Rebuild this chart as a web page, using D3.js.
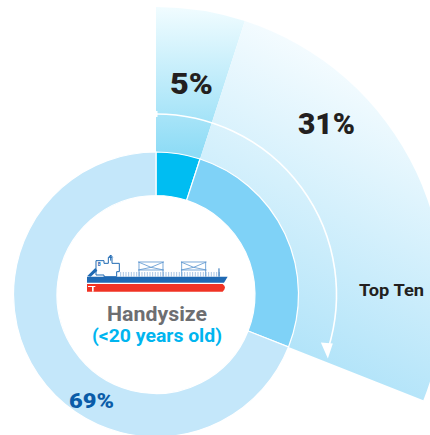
<!DOCTYPE html>
<html>
<head>
<meta charset="utf-8">
<script src="https://cdn.jsdelivr.net/npm/d3@7"></script>
<style>
  html, body { margin: 0; padding: 0; background: #fff; }
  svg { display: block; }
  text { font-family: Roboto, sans-serif; }
</style>
</head>
<body>
<script>
// shares of the handysize fleet, clockwise from 12 o'clock
const slices = ["Top Ten, young", "Top Ten, other", "Rest"];
const shares = [5, 26, 69];
const ringColors = ["#00bdf2", "#7fd2f7", "#c4e7fa"];
const shareLabels = ["5%", "31%", "69%"];

const w = 430;
const h = 435;
const cx = 156;
const cy = 294.5;
const rInner = 99;
const rOuter = 142.5;
const rWedge = 287.5;
const rArrow = 180.5;

const svg = d3.select("body")
    .append("svg")
    .attr("width", w)
    .attr("height", h);

const defs = svg.append("defs");

// gradient coordinates are relative to the ring centre, same as the wedges
const grad5 = defs.append("linearGradient")
    .attr("id", "grad5")
    .attr("gradientUnits", "userSpaceOnUse")
    .attr("x1", 0).attr("y1", 8 - cy).attr("x2", 0).attr("y2", 152 - cy);
grad5.append("stop").attr("offset", 0).attr("stop-color", "#f0fcff");
grad5.append("stop").attr("offset", 1).attr("stop-color", "#8fdcf6");

const grad26 = defs.append("linearGradient")
    .attr("id", "grad26")
    .attr("gradientUnits", "userSpaceOnUse")
    .attr("x1", 430 - cx).attr("y1", 90 - cy).attr("x2", 270 - cx).attr("y2", 400 - cy);
grad26.append("stop").attr("offset", 0).attr("stop-color", "#f8fdff");
grad26.append("stop").attr("offset", 1).attr("stop-color", "#a5dff8");

const pie = d3.pie().sort(null)(shares);

const g = svg.append("g")
    .attr("transform", `translate(${cx}, ${cy})`);

const wedgeArc = d3.arc().innerRadius(rOuter).outerRadius(rWedge);
const ringArc = d3.arc().innerRadius(rInner).outerRadius(rOuter);

// outer wedges for the top ten share
g.selectAll("path.wedge")
    .data(pie.slice(0, 2))
    .enter()
    .append("path")
    .attr("class", "wedge")
    .attr("fill", (d, i) => i == 0 ? "url(#grad5)" : "url(#grad26)")
    .attr("d", wedgeArc);

// the ring
g.selectAll("path.ring")
    .data(pie)
    .enter()
    .append("path")
    .attr("class", "ring")
    .attr("fill", (d, i) => ringColors[i])
    .attr("stroke", "#fff")
    .attr("stroke-width", 1.2)
    .attr("d", ringArc);

// arrow around the top ten share
const endAngle = pie[1].endAngle;
const arrowEnd = endAngle - 0.075;
const arrowArc = d3.arc()
    .innerRadius(rArrow)
    .outerRadius(rArrow)
    .startAngle(0)
    .endAngle(arrowEnd);

g.append("path")
    .attr("d", arrowArc())
    .attr("fill", "none")
    .attr("stroke", "#fff")
    .attr("stroke-width", 1.6);

const tip = d3.pointRadial(endAngle - 0.018, rArrow + 2);
g.append("path")
    .attr("d", "M-6,-16 L6,-15 L1,0 Z")
    .attr("fill", "#fff")
    .attr("transform", `translate(${tip[0]}, ${tip[1]})`);

g.append("rect")
    .attr("x", 0).attr("y", -rArrow - 3)
    .attr("width", 1.5).attr("height", 6)
    .attr("fill", "#fff");

// labels, stretched to the width of the squarer original face
function label(txt, x, y, size, weight, color, width) {
    svg.append("text")
        .attr("x", x).attr("y", y)
        .attr("font-size", size)
        .attr("font-weight", weight)
        .attr("fill", color)
        .attr("textLength", width)
        .attr("lengthAdjust", "spacingAndGlyphs")
        .text(txt);
}
label(shareLabels[0], 170, 94, 30, 900, "#231f20", 43);
label(shareLabels[1], 298, 134, 30, 900, "#231f20", 57);
label(shareLabels[2], 69, 408, 20, 900, "#0a5ca8", 45);
label("Top Ten", 359, 296, 17, 700, "#231f20", 65);
label("Handysize", 107, 321, 21, 700, "#6d6e71", 100);
label("(<20 years old)", 92, 342, 18, 700, "#00b5ef", 130);

// ship icon, drawn in the 3x units of a crop
const ship = svg.append("g")
    .attr("transform", "translate(60, 230) scale(0.3333)");
const blue = "#1f69b3";

ship.append("path")
    .attr("d", "M81,140 H503 L492,158 H81 Z")
    .attr("fill", blue);
ship.append("path")
    .attr("d", "M81,162 H488 Q502,172 488,185 H81 Z")
    .attr("fill", "#f03324");
ship.append("rect")
    .attr("x", 84).attr("y", 168).attr("width", 22).attr("height", 3)
    .attr("fill", "#fff");
ship.append("rect")
    .attr("x", 96).attr("y", 171).attr("width", 5).attr("height", 14)
    .attr("fill", "#fff");

ship.append("path")
    .attr("d", "M108,92 H132 V100 H145 V82 H156 V100 H178 V125 H170 V140 H132 V135 H108 Z")
    .attr("fill", "#fff")
    .attr("stroke", blue)
    .attr("stroke-width", 3);
ship.append("path")
    .attr("d", "M152,75 V92 M146,82 L152,75 L158,82")
    .attr("fill", "none")
    .attr("stroke", blue)
    .attr("stroke-width", 3);
ship.append("path")
    .attr("d", "M82,138 L106,114 L112,122 L92,140 Z")
    .attr("fill", blue);
ship.append("text")
    .attr("x", 113).attr("y", 109)
    .attr("font-size", 14)
    .attr("font-weight", 700)
    .attr("fill", blue)
    .text("B");

// railing along the deck
const railX = d3.range(182, 480, 8);
ship.selectAll("line.rail")
    .data(railX)
    .enter()
    .append("line")
    .attr("class", "rail")
    .attr("x1", d => d).attr("x2", d => d)
    .attr("y1", 126).attr("y2", 140)
    .attr("stroke", "#7fa8d6")
    .attr("stroke-width", 2);

// the two cranes
for (const x0 of [235, 363]) {
    ship.append("path")
        .attr("d", `M${x0},96 H${x0 + 76} M${x0},120 H${x0 + 76} M${x0},96 L${x0 + 38},112 L${x0 + 76},96 M${x0},120 L${x0 + 38},112 L${x0 + 76},120 M${x0 + 2},96 V140 M${x0 + 74},96 V140`)
        .attr("fill", "none")
        .attr("stroke", "#5f97d0")
        .attr("stroke-width", 2.5);
}
ship.append("path")
    .attr("d", "M477,115 V140")
    .attr("stroke", blue)
    .attr("stroke-width", 3);
</script>
</body>
</html>
